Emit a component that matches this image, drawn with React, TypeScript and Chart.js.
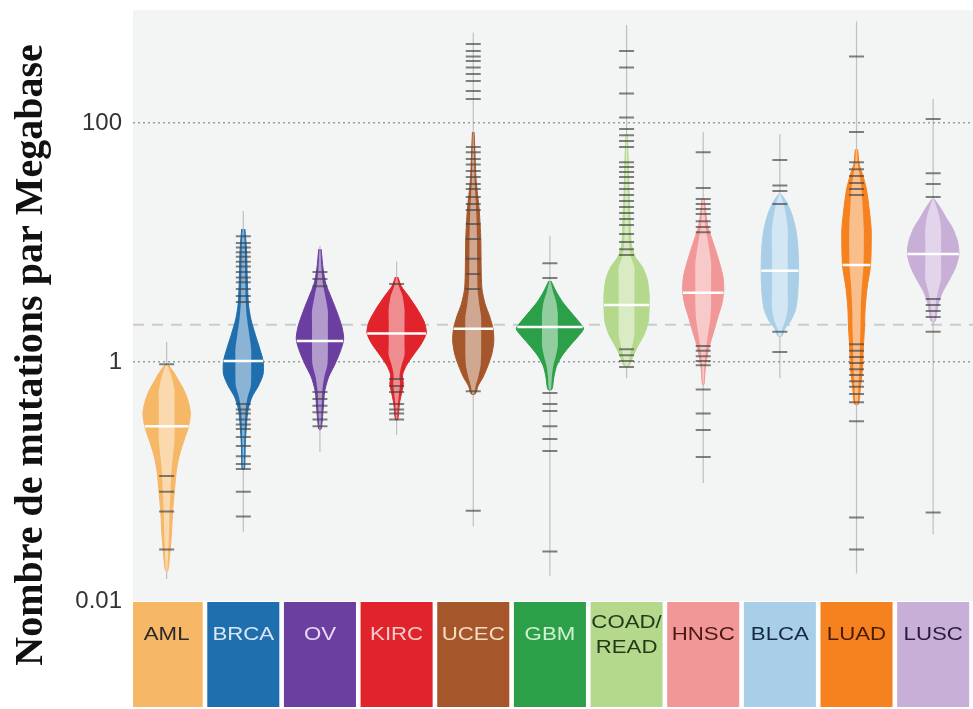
import React, { useEffect, useRef } from "react";
import { Chart, registerables } from "chart.js";

Chart.register(...registerables);

// ---------- data ----------
const categories = [["AML"], ["BRCA"], ["OV"], ["KIRC"], ["UCEC"], ["GBM"], ["COAD/", "READ"], ["HNSC"], ["BLCA"], ["LUAD"], ["LUSC"]];
const colors = ["#f6b766", "#1f6eae", "#6b3f9f", "#e1232b", "#a5572b", "#2ca048", "#b4d98d", "#f19797", "#a9cfe8", "#f5821f", "#c8afd8"];
const labelColors = ["#2a2a2a", "#d9e6f5", "#e8dcf6", "#f8cccc", "#f5dcc2", "#d4f0d4", "#1f3a14", "#4a1818", "#142840", "#4a1c04", "#2a1a40"];

const medians = [0.29, 1.02, 1.5, 1.73, 1.9, 1.96, 3.0, 3.8, 5.8, 6.5, 8.0];
const rangeHigh = [1.47, 18.4, 9.35, 6.93, 572, 11.4, 661, 84, 81, 708, 159];
const rangeLow = [0.0153, 0.038, 0.177, 0.245, 0.042, 0.0163, 0.73, 0.097, 0.73, 0.017, 0.036];
const overallMedian = 2.05;

const yTicks = [0.01, 1, 100];
const yTickLabels = ["0.01", "1", "100"];
const yTitle = "Nombre de mutations par Megabase";

// violin outlines: levels (mutations/Mb) and relative density
const profileLevels = [
  [0.96, 0.82, 0.7, 0.57, 0.46, 0.37, 0.286, 0.227, 0.17, 0.127, 0.087, 0.056, 0.036, 0.025, 0.018],
  [13.0, 8.8, 4.95, 3.06, 2.29, 1.71, 1.28, 1.02, 0.79, 0.63, 0.51, 0.4, 0.3, 0.206, 0.127],
  [8.8, 6.0, 4.5, 3.5, 2.67, 2.0, 1.56, 1.24, 0.96, 0.75, 0.57, 0.4, 0.275],
  [5.15, 4.3, 3.57, 2.78, 2.16, 1.75, 1.41, 1.14, 0.94, 0.78, 0.65, 0.54, 0.445, 0.33],
  [84, 60, 34, 18.7, 10.7, 6.0, 4.08, 3.06, 2.38, 1.89, 1.5, 1.17, 0.93, 0.75, 0.63, 0.54],
  [4.76, 3.93, 3.18, 2.52, 2.08, 1.89, 1.62, 1.36, 1.12, 0.93, 0.75, 0.59],
  [81, 50, 28, 15.7, 9.7, 7.56, 6.24, 4.95, 3.7, 2.88, 2.2, 1.71, 1.39, 1.14, 0.94],
  [23.1, 17.3, 13.5, 10.7, 8.49, 6.6, 5.15, 3.93, 3.06, 2.38, 1.82, 1.41, 1.12, 0.87, 0.65],
  [25.5, 21.8, 17.3, 13.0, 9.7, 7.0, 4.95, 3.7, 2.78, 2.2, 1.89, 1.65],
  [60, 45, 37.4, 28, 19.1, 13.0, 8.8, 6.24, 4.24, 2.88, 1.89, 1.28, 0.87, 0.62, 0.445],
  [23.1, 19.8, 16.3, 13.0, 10.1, 8.0, 6.24, 4.95, 3.93, 3.24, 2.67, 2.2],
];
const profileDensity = [
  [0.03, 0.18, 0.3, 0.45, 0.55, 0.6, 0.55, 0.45, 0.33, 0.25, 0.2, 0.15, 0.12, 0.08, 0.03],
  [0.04, 0.08, 0.1, 0.13, 0.19, 0.3, 0.42, 0.5, 0.5, 0.38, 0.22, 0.12, 0.08, 0.05, 0.03],
  [0.03, 0.08, 0.15, 0.28, 0.42, 0.55, 0.6, 0.52, 0.38, 0.22, 0.12, 0.08, 0.03],
  [0.03, 0.12, 0.3, 0.52, 0.7, 0.75, 0.62, 0.42, 0.25, 0.15, 0.17, 0.12, 0.07, 0.03],
  [0.02, 0.04, 0.07, 0.15, 0.19, 0.2, 0.22, 0.3, 0.42, 0.5, 0.52, 0.47, 0.37, 0.25, 0.12, 0.05],
  [0.03, 0.15, 0.32, 0.57, 0.78, 0.85, 0.7, 0.5, 0.3, 0.17, 0.1, 0.05],
  [0.02, 0.04, 0.06, 0.09, 0.12, 0.22, 0.4, 0.52, 0.57, 0.57, 0.55, 0.45, 0.3, 0.17, 0.07],
  [0.03, 0.07, 0.12, 0.22, 0.32, 0.42, 0.5, 0.52, 0.47, 0.37, 0.27, 0.17, 0.1, 0.05, 0.02],
  [0.03, 0.17, 0.3, 0.4, 0.45, 0.47, 0.47, 0.45, 0.4, 0.27, 0.12, 0.05],
  [0.03, 0.07, 0.15, 0.25, 0.32, 0.37, 0.37, 0.35, 0.27, 0.22, 0.2, 0.17, 0.15, 0.1, 0.05],
  [0.03, 0.17, 0.32, 0.5, 0.62, 0.65, 0.57, 0.42, 0.25, 0.15, 0.1, 0.05],
];

// individual samples drawn as dashes (those visible outside the violin bodies)
const samples = [
  [0.96, 0.111, 0.082, 0.056, 0.027],
  [11.3, 9.9, 9.1, 8.3, 7.6, 6.9, 6.3, 5.66, 5.1, 4.66, 4.08, 3.57, 3.18, 0.445, 0.4, 0.37, 0.33, 0.3, 0.275, 0.236, 0.198, 0.163, 0.14, 0.127, 0.082, 0.051],
  [5.66, 4.95, 4.3, 0.56, 0.49, 0.43, 0.38, 0.33, 0.29],
  [4.5, 0.72, 0.63, 0.56, 0.445, 0.4, 0.37, 0.33],
  [458, 401, 360, 330, 291, 257, 225, 185, 159, 63, 57, 50, 45, 39.6, 35.3, 30.9, 28, 24, 21, 18.7, 14.3, 10.7, 7.3, 5.45, 4.08, 0.57, 0.057],
  [6.7, 5.05, 0.55, 0.445, 0.39, 0.29, 0.227, 0.18, 0.026],
  [401, 291, 177, 111, 89, 79, 70.7, 63, 47, 42.8, 38.9, 35.3, 31.5, 28, 25, 22.3, 19.8, 17.7, 15.7, 14.0, 11.8, 10.1, 8.8, 7.86, 1.28, 1.14, 1.02, 0.91],
  [57, 28.6, 23.1, 21, 19.1, 17.3, 15.1, 13.5, 12.2, 1.36, 1.24, 1.12, 1.02, 0.94, 0.59, 0.37, 0.27, 0.16],
  [49, 30, 27, 21, 1.79, 1.21],
  [360, 84, 47, 41, 36, 31.5, 28, 25, 1.41, 1.24, 1.1, 0.98, 0.87, 0.78, 0.69, 0.62, 0.54, 0.46, 0.32, 0.05, 0.027],
  [108, 38, 30.9, 24, 3.37, 3.0, 2.67, 2.38, 1.79, 0.055],
];

// ---------- helpers ----------
const X_MIN = -0.439;
const X_MAX = 10.748;
const WIDTH_SCALE = 0.516; // category units per density unit

function densityAt(levels: number[], dens: number[], v: number) {
  const lv = Math.log10(v);
  for (let k = 0; k < levels.length - 1; k++) {
    const a = Math.log10(levels[k]);
    const b = Math.log10(levels[k + 1]);
    if (lv <= a && lv >= b) {
      const t = (a - lv) / (a - b);
      return dens[k] + t * (dens[k + 1] - dens[k]);
    }
  }
  return 0;
}

function outline(i: number, scale: number, cap: number) {
  const lv = profileLevels[i];
  const dv = profileDensity[i];
  const right = lv.map((v, k) => ({ x: i + Math.min(dv[k] * scale, cap) * WIDTH_SCALE, y: v }));
  const left = lv.map((v, k) => ({ x: i - Math.min(dv[k] * scale, cap) * WIDTH_SCALE, y: v })).reverse();
  return [...right, ...left];
}

function buildDatasets() {
  const ds: any[] = [];
  ds.push({
    type: "scatter",
    data: [{ x: X_MIN, y: overallMedian }, { x: X_MAX, y: overallMedian }],
    showLine: true,
    borderColor: "rgba(200,200,200,0.95)",
    borderWidth: 2,
    borderDash: [11, 8],
    pointRadius: 0,
    order: 60,
  });
  categories.forEach((_, i) => {
    ds.push({
      type: "scatter",
      data: [{ x: i, y: rangeHigh[i] }, { x: i, y: rangeLow[i] }],
      showLine: true,
      borderColor: "rgba(140,140,140,0.5)",
      borderWidth: 1.2,
      pointRadius: 0,
      order: 55,
    });
    ds.push({
      type: "scatter",
      data: outline(i, 1, 10),
      showLine: true,
      fill: "shape",
      backgroundColor: colors[i],
      borderColor: colors[i],
      borderWidth: 1,
      tension: 0.25,
      pointRadius: 0,
      order: 40,
    });
    ds.push({
      type: "scatter",
      data: outline(i, 0.5, 0.2),
      showLine: true,
      fill: "shape",
      backgroundColor: "rgba(255,255,255,0.48)",
      borderWidth: 0,
      tension: 0.25,
      pointRadius: 0,
      order: 35,
    });
    ds.push({
      type: "scatter",
      data: samples[i].map((v) => ({ x: i, y: v })),
      pointStyle: "line",
      pointRadius: 7.5,
      pointBorderWidth: 2,
      pointBorderColor: "rgba(70,70,70,0.68)",
      pointBackgroundColor: "rgba(70,70,70,0.68)",
      order: 20,
    });
    const dm = densityAt(profileLevels[i], profileDensity[i], medians[i]) * WIDTH_SCALE;
    ds.push({
      type: "scatter",
      data: [{ x: i - dm, y: medians[i] }, { x: i + dm, y: medians[i] }],
      showLine: true,
      borderColor: "#ffffff",
      borderWidth: 2.5,
      pointRadius: 0,
      order: 10,
    });
  });
  return ds;
}

const backgroundPlugin = {
  id: "plotBackground",
  beforeDraw(chart: any) {
    const { ctx, chartArea } = chart;
    ctx.save();
    ctx.fillStyle = "#f3f4f4";
    ctx.fillRect(chartArea.left, chartArea.top, chartArea.right - chartArea.left, chartArea.bottom - chartArea.top);
    ctx.restore();
  },
};

const boxesPlugin = {
  id: "categoryBoxes",
  afterDraw(chart: any) {
    const { ctx, chartArea } = chart;
    const xs = chart.scales.x;
    const top = chartArea.bottom + 1;
    const h = 105;
    categories.forEach((lines, i) => {
      const x0 = xs.getPixelForValue(i - 0.47);
      const x1 = xs.getPixelForValue(i + 0.47);
      ctx.save();
      ctx.fillStyle = colors[i];
      ctx.fillRect(Math.max(x0, chartArea.left), top, x1 - Math.max(x0, chartArea.left), h);
      ctx.fillStyle = labelColors[i];
      ctx.font = '19px "Liberation Sans", Arial, sans-serif';
      ctx.textAlign = "center";
      ctx.textBaseline = "alphabetic";
      const cx = xs.getPixelForValue(i);
      const base = lines.length === 1 ? [top + 38] : [top + 26, top + 51];
      lines.forEach((t, k) => {
        ctx.save();
        ctx.translate(cx, base[k]);
        ctx.scale(1.17, 1);
        ctx.fillText(t, 0, 0);
        ctx.restore();
      });
      ctx.restore();
    });
  },
};

const titlePlugin = {
  id: "yTitle",
  afterDraw(chart: any) {
    const { ctx } = chart;
    ctx.save();
    ctx.translate(42, 355);
    ctx.rotate(-Math.PI / 2);
    ctx.font = 'bold 40px "Liberation Serif", "Times New Roman", serif';
    ctx.fillStyle = "#111111";
    ctx.textAlign = "center";
    ctx.textBaseline = "alphabetic";
    ctx.fillText(yTitle, 0, 0);
    ctx.restore();
  },
};

export default function App() {
  const ref = useRef<HTMLCanvasElement | null>(null);
  useEffect(() => {
    if (!ref.current) return;
    const chart = new Chart(ref.current, {
      type: "scatter",
      data: { datasets: buildDatasets() },
      options: {
        animation: false,
        responsive: false,
        events: [],
        layout: { padding: { top: 10, bottom: 108, left: 0, right: 0 } },
        plugins: { legend: { display: false }, tooltip: { enabled: false }, title: { display: false } },
        scales: {
          x: { type: "linear", min: X_MIN, max: X_MAX, display: false },
          y: {
            type: "logarithmic",
            min: 0.01,
            max: 883,
            position: "left",
            afterBuildTicks: (s: any) => {
              s.ticks = yTicks.map((v) => ({ value: v }));
            },
            afterFit: (s: any) => {
              s.width = 133;
              s.paddingTop = 0;
              s.paddingBottom = 0;
            },
            ticks: {
              autoSkip: false,
              padding: 11,
              color: "#333333",
              font: { family: '"Liberation Sans", Arial, sans-serif', size: 24 },
              callback: (v: any) => {
                const k = yTicks.indexOf(Number(v));
                return k >= 0 ? yTickLabels[k] : "";
              },
            },
            grid: {
              drawTicks: false,
              lineWidth: 1.5,
              color: (c: any) => (c.tick && c.tick.value === 0.01 ? "rgba(0,0,0,0)" : "#9c9c9c"),
            },
            border: { display: false, dash: [2, 3] },
          },
        },
      } as any,
      plugins: [backgroundPlugin, boxesPlugin, titlePlugin],
    });
    return () => chart.destroy();
  }, []);
  return (
    <div style={{ position: "fixed", left: 0, top: 0, width: 973, height: 709, overflow: "hidden", background: "#ffffff" }}>
      <canvas ref={ref} width={1000} height={709} style={{ display: "block", width: 1000, height: 709 }} />
    </div>
  );
}
